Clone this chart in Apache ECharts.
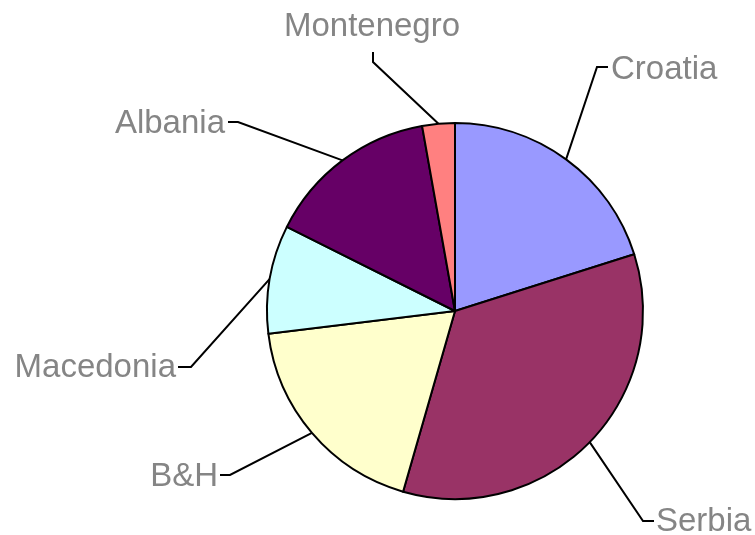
<!DOCTYPE html>
<html>
<head>
<meta charset="utf-8">
<script src="https://cdn.jsdelivr.net/npm/echarts@6/dist/echarts.min.js"></script>
<style>
  html, body { margin: 0; padding: 0; background: #fff; }
  #chart { width: 755px; height: 535px; }
</style>
</head>
<body>
<div id="chart"></div>
<script>
// countries, clockwise from 12 o'clock
const countries = ['Croatia', 'Serbia', 'B&H', 'Macedonia', 'Albania', 'Montenegro'];
// share of the total, %
const shares = [20.1, 34.3, 18.6, 9.3, 14.8, 2.8];
const sliceColors = ['#9999FF', '#993366', '#FFFFCC', '#CCFFFF', '#660066', '#FF8080'];

// where each leader line bends / ends and where its text sits (px)
const labelSpots = {
  'Croatia':    { bend: [597, 67],  end: [608, 67],  text: [611, 70],  align: 'left' },
  'Serbia':     { bend: [643, 521], end: [654, 521], text: [656, 522], align: 'left' },
  'B&H':        { bend: [230, 475], end: [220, 475], text: [218, 477], align: 'right' },
  'Macedonia':  { bend: [191, 367], end: [178, 367], text: [176, 368], align: 'right' },
  'Albania':    { bend: [238, 122], end: [228, 122], text: [225, 124], align: 'right' },
  'Montenegro': { bend: [373, 62],  end: [373, 52],  text: [372, 27],  align: 'center' }
};

let myChart = echarts.init(document.getElementById('chart'));

let option = {
  animation: false,
  series: [
    {
      type: 'pie',
      center: [455, 311],
      radius: 188,
      startAngle: 90,
      clockwise: true,
      avoidLabelOverlap: false,
      itemStyle: {
        borderColor: '#000',
        borderWidth: 2
      },
      label: {
        show: true,
        position: 'outside',
        formatter: '{b}',
        color: '#858585',
        fontFamily: 'Liberation Sans, Arial, sans-serif',
        fontSize: 33
      },
      labelLine: {
        show: true,
        lineStyle: { color: '#000', width: 2 }
      },
      labelLayout: function (params) {
        let name = countries[params.dataIndex];
        let s = labelSpots[name];
        let start = params.labelLinePoints ? params.labelLinePoints[0] : s.bend;
        return {
          x: s.text[0],
          y: s.text[1],
          align: s.align,
          verticalAlign: 'middle',
          labelLinePoints: [start, s.bend, s.end]
        };
      },
      data: countries.map(function (c, i) {
        return { name: c, value: shares[i], itemStyle: { color: sliceColors[i] } };
      })
    }
  ]
};

myChart.setOption(option);
</script>
</body>
</html>
